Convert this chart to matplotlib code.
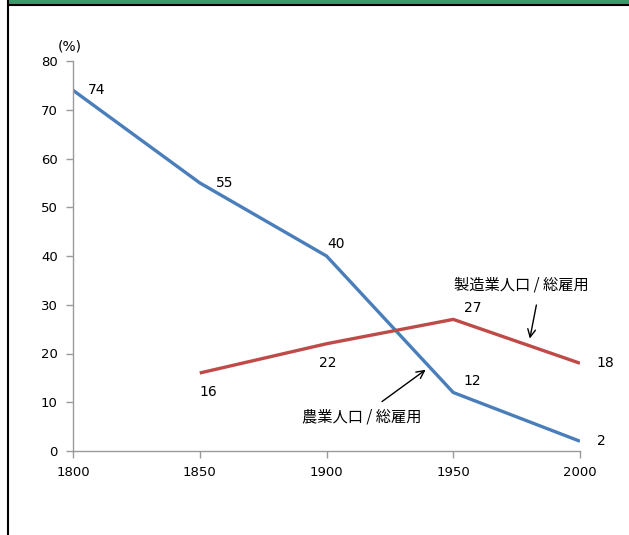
import matplotlib.pyplot as plt
from matplotlib.lines import Line2D
from matplotlib.patches import Rectangle

plt.rcParams['font.family'] = ['DejaVu Sans', 'Noto Sans CJK JP']

years = [1800, 1850, 1900, 1950, 2000]
agri_years = [1800, 1850, 1900, 1950, 2000]
agri_share = [74, 55, 40, 12, 2]
manu_years = [1850, 1900, 1950, 2000]
manu_share = [16, 22, 27, 18]
yticks = [0, 10, 20, 30, 40, 50, 60, 70, 80]

blue = '#4a7ebb'
red = '#be4b48'

fig = plt.figure(figsize=(6.29, 5.35), dpi=100)
ax = fig.add_axes([73 / 629, 84 / 535, 507 / 629, 390 / 535])

ax.plot(agri_years, agri_share, color=blue, lw=2.4, solid_capstyle='butt')
ax.plot(manu_years, manu_share, color=red, lw=2.4, solid_capstyle='butt')

ax.set_xlim(1800, 2000)
ax.set_ylim(0, 80)
ax.set_xticks(years)
ax.set_yticks(yticks)
for s in ('top', 'right'):
    ax.spines[s].set_visible(False)
for s in ('left', 'bottom'):
    ax.spines[s].set_color('#9a9a9a')
    ax.spines[s].set_linewidth(1)
ax.tick_params(axis='both', colors='#9a9a9a', labelcolor='black',
               labelsize=9.5, length=5, width=1)
ax.tick_params(axis='x', pad=6)
ax.tick_params(axis='y', pad=6)

# value labels: (dx, dy, ha) in points from each point
agri_off = [(11, 0, 'left'), (12, 0, 'left'), (7, 9, 'center'),
            (7, 8, 'left'), (12, 0, 'left')]
manu_off = [(6, -14, 'center'), (1, -14, 'center'), (8, 8, 'left'),
            (12, 0, 'left')]
for x, y, (dx, dy, ha) in zip(agri_years, agri_share, agri_off):
    ax.annotate(str(y), (x, y), xytext=(dx, dy), textcoords='offset points',
                ha=ha, va='center', fontsize=10)
for x, y, (dx, dy, ha) in zip(manu_years, manu_share, manu_off):
    ax.annotate(str(y), (x, y), xytext=(dx, dy), textcoords='offset points',
                ha=ha, va='center', fontsize=10)

ax.text(1794, 81.6, '(%)', fontsize=10, ha='left', va='bottom', clip_on=False)

jp = ['Noto Sans CJK JP', 'DejaVu Sans']
ax.annotate('', xy=(1980, 22.5), xytext=(1983, 30.5),
            arrowprops=dict(arrowstyle='->', color='black', lw=1,
                            mutation_scale=14))
ax.text(1977, 34, '製造業人口 / 総雇用', family=jp, fontsize=11,
        ha='center', va='center')
ax.annotate('', xy=(1940, 17), xytext=(1921, 9.8),
            arrowprops=dict(arrowstyle='->', color='black', lw=1,
                            mutation_scale=14))
ax.text(1914, 7, '農業人口 / 総雇用', family=jp, fontsize=11,
        ha='center', va='center')

# frame: green band on top, black rules
fig.patches.append(Rectangle((9 / 629, 1 - 4 / 535), 1, 4 / 535,
                             transform=fig.transFigure, color='#3a9a6a'))
fig.lines.append(Line2D([9 / 629, 1], [1 - 5 / 535] * 2,
                        transform=fig.transFigure, color='black', lw=1.5))
fig.lines.append(Line2D([8 / 629] * 2, [0, 1],
                        transform=fig.transFigure, color='black', lw=1.5))

fig.savefig('out.png', dpi=100)
